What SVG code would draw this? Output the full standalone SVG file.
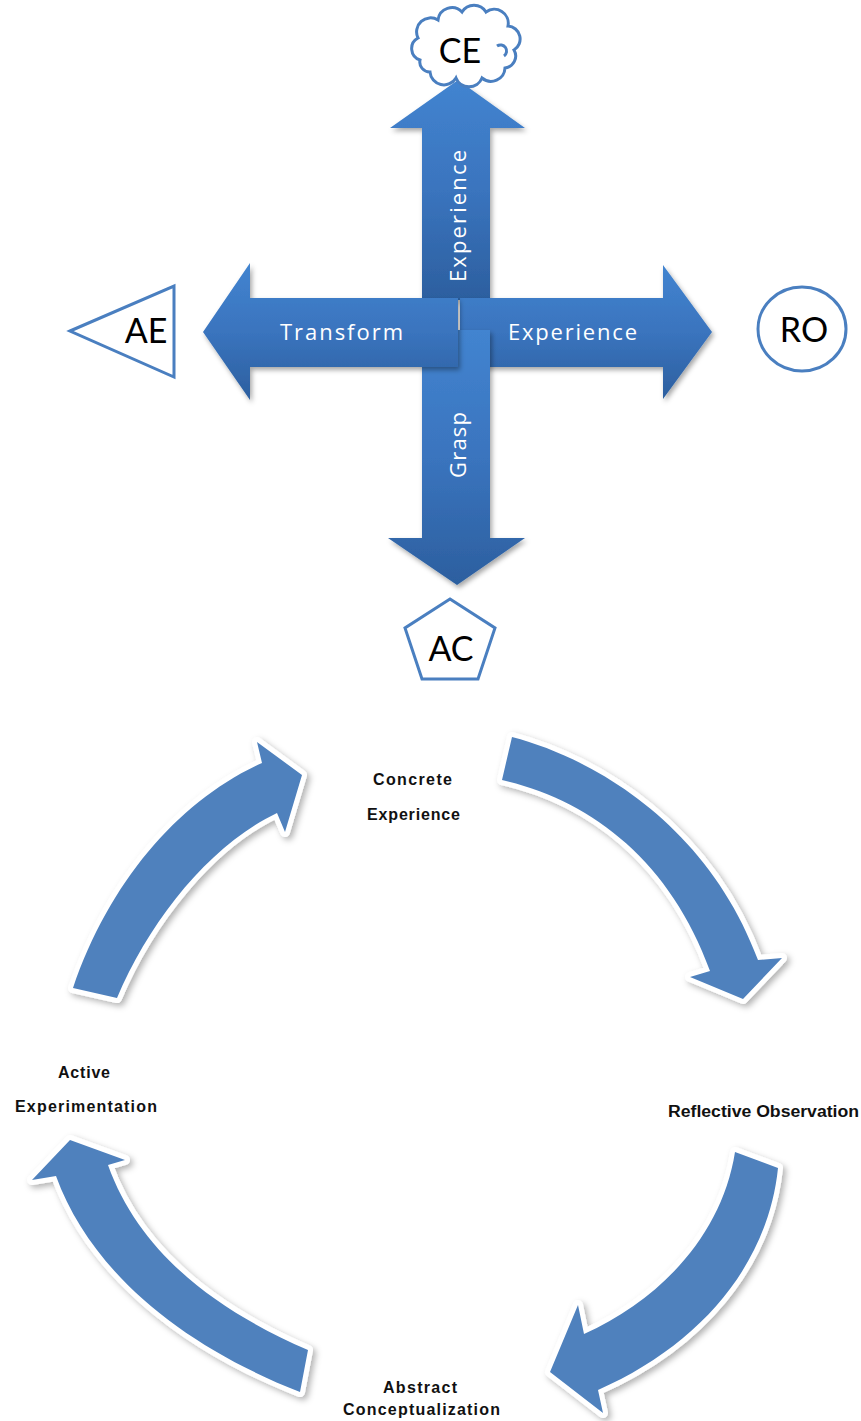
<svg xmlns="http://www.w3.org/2000/svg" width="861" height="1421" viewBox="0 0 861 1421">
  <defs>
    <linearGradient id="gv" x1="0" y1="0" x2="0" y2="1">
      <stop offset="0" stop-color="#4284d0"/>
      <stop offset="0.5" stop-color="#3a74be"/>
      <stop offset="1" stop-color="#2c5f9f"/>
    </linearGradient>
    <filter id="sh" x="-20%" y="-20%" width="140%" height="140%">
      <feDropShadow dx="2" dy="3" stdDeviation="2.5" flood-color="#000" flood-opacity="0.35"/>
    </filter>
    <filter id="sh2" x="-20%" y="-20%" width="140%" height="140%">
      <feDropShadow dx="3" dy="3" stdDeviation="3" flood-color="#000" flood-opacity="0.3"/>
    </filter>
  </defs>
  <style>
    .xarrow { fill: url(#gv); filter: url(#sh); }
    .xlabel { font-family: "Open Sans", "DejaVu Sans", sans-serif; font-size: 22px; fill: #ffffff; }
    .node { fill: #ffffff; stroke: #4a7fc0; stroke-width: 3; }
    .ntext { font-family: Lato, "Open Sans", sans-serif; font-size: 34px; fill: #000000; text-anchor: middle; }
    .carrow-bg { fill: #ffffff; stroke: #ffffff; stroke-width: 10; stroke-linejoin: round; filter: url(#sh2); }
    .carrow { fill: #4f81bd; }
    .clabel { font-family: "Liberation Sans", Arial, sans-serif; font-size: 16px; font-weight: bold; fill: #111111; }
  </style>

  <g id="connectors">
    <g id="arrow-up">
      <polygon class="xarrow" points="458,80 525,128 490,128 490,300 422,300 422,128 390,128"/>
      <text class="xlabel" transform="translate(466,216) rotate(-90)" text-anchor="middle" textLength="132" lengthAdjust="spacing">Experience</text>
    </g>
    <g id="arrow-right">
      <polygon class="xarrow" points="460,298 663,298 663,265 712,332 663,399 663,367 460,367"/>
      <text class="xlabel" x="508" y="340" textLength="129" lengthAdjust="spacing">Experience</text>
    </g>
    <g id="arrow-down">
      <polygon class="xarrow" points="422,330 490,330 490,538 525,538 457,585 388,538 422,538"/>
      <text class="xlabel" transform="translate(466,445) rotate(-90)" text-anchor="middle" textLength="66" lengthAdjust="spacing">Grasp</text>
    </g>
    <g id="arrow-left">
      <polygon class="xarrow" points="203,332 250,263 250,298 458,298 458,367 250,367 250,400"/>
      <text class="xlabel" x="280" y="340" textLength="123" lengthAdjust="spacing">Transform</text>
    </g>
  </g>

  <g id="node-ce">
    <path class="node" d="M420,60 A12,12 0 0 1 418,38 A14,14 0 0 1 438,20 A14,14 0 0 1 462,12 A14,14 0 0 1 486,12 A14,14 0 0 1 508,26 A13,13 0 0 1 514,50 A12,12 0 0 1 505,68 A14,14 0 0 1 482,78 A14,14 0 0 1 456,78 A14,14 0 0 1 430,72 A10,10 0 0 1 420,60 Z"/>
    <path d="M497,46 A6,6 0 0 1 504,56" fill="none" stroke="#4a7fc0" stroke-width="3"/>
    <text class="ntext" x="460" y="63">CE</text>
  </g>
  <g id="node-ae">
    <polygon class="node" points="70,331 174,286 174,377" stroke-width="2.5"/>
    <text class="ntext" x="146" y="343">AE</text>
  </g>
  <g id="node-ro">
    <ellipse class="node" cx="802" cy="329" rx="44" ry="42"/>
    <text class="ntext" x="804" y="342">RO</text>
  </g>
  <g id="node-ac">
    <polygon class="node" points="450,599 495,628 478,679 422,679 405,628"/>
    <text class="ntext" x="451" y="661">AC</text>
  </g>

  <g id="cycle-arrows">
    <g id="carrow-ae-ce">
      <path class="carrow-bg" d="M73,988 C110,880 180,800 262,763 L257,742 L302,775 L285,832 L277,813 C210,845 150,920 117,998 Z"/>
      <path class="carrow" d="M73,988 C110,880 180,800 262,763 L257,742 L302,775 L285,832 L277,813 C210,845 150,920 117,998 Z"/>
    </g>
    <g id="carrow-ce-ro">
      <path class="carrow-bg" d="M512,737 C600,760 710,830 758,960 L782,958 L743,999 L690,977 L710,971 C670,860 590,800 502,780 Z"/>
      <path class="carrow" d="M512,737 C600,760 710,830 758,960 L782,958 L743,999 L690,977 L710,971 C670,860 590,800 502,780 Z"/>
    </g>
    <g id="carrow-ro-ac">
      <path class="carrow-bg" d="M778,1168 C768,1265 700,1345 598,1390 L603,1413 L550,1372 L578,1305 L584,1334 C660,1300 722,1235 735,1152 Z"/>
      <path class="carrow" d="M778,1168 C768,1265 700,1345 598,1390 L603,1413 L550,1372 L578,1305 L584,1334 C660,1300 722,1235 735,1152 Z"/>
    </g>
    <g id="carrow-ac-ae">
      <path class="carrow-bg" d="M300,1392 C180,1345 90,1270 56,1176 L32,1180 L70,1140 L125,1160 L108,1165 C140,1255 220,1312 308,1350 Z"/>
      <path class="carrow" d="M300,1392 C180,1345 90,1270 56,1176 L32,1180 L70,1140 L125,1160 L108,1165 C140,1255 220,1312 308,1350 Z"/>
    </g>
  </g>

  <g id="label-ce">
    <text class="clabel" x="373" y="785" textLength="79" lengthAdjust="spacing">Concrete</text>
    <text class="clabel" x="367" y="820" textLength="93" lengthAdjust="spacing">Experience</text>
  </g>
  <g id="label-ro">
    <text class="clabel" x="668" y="1117" textLength="191" lengthAdjust="spacingAndGlyphs">Reflective Observation</text>
  </g>
  <g id="label-ac">
    <text class="clabel" x="383" y="1393" textLength="74" lengthAdjust="spacing">Abstract</text>
    <text class="clabel" x="343" y="1415" textLength="157" lengthAdjust="spacing">Conceptualization</text>
  </g>
  <g id="label-ae">
    <text class="clabel" x="58" y="1078" textLength="52" lengthAdjust="spacing">Active</text>
    <text class="clabel" x="15" y="1112" textLength="142" lengthAdjust="spacing">Experimentation</text>
  </g>
</svg>
